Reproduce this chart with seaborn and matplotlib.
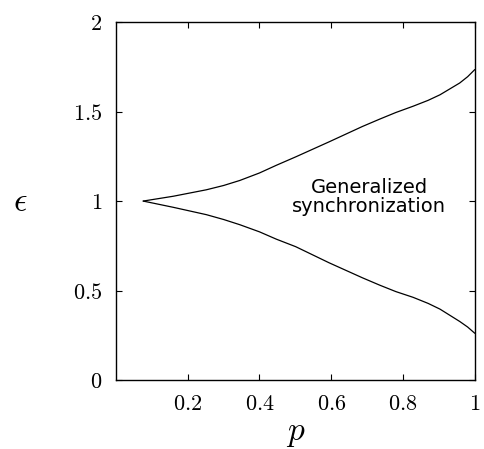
import matplotlib
matplotlib.use('Agg')
import matplotlib.pyplot as plt
import seaborn as sns

# 数据：边界曲线
p_vals = [0.076, 0.16, 0.252, 0.30, 0.345, 0.40, 0.447, 0.501, 0.594, 0.687, 0.735, 0.78, 0.828, 0.87, 0.903, 0.958, 0.98, 1.0]
eps_upper = [1.0, 1.027, 1.063, 1.087, 1.115, 1.157, 1.200, 1.247, 1.331, 1.417, 1.458, 1.495, 1.530, 1.563, 1.594, 1.660, 1.695, 1.735]
eps_lower = [1.0, 0.965, 0.924, 0.897, 0.868, 0.828, 0.787, 0.745, 0.655, 0.571, 0.530, 0.494, 0.462, 0.428, 0.396, 0.327, 0.296, 0.261]

x_ticks = [0.2, 0.4, 0.6, 0.8, 1.0]
x_labels = ['$0.2$', '$0.4$', '$0.6$', '$0.8$', '$1$']
y_ticks = [0, 0.5, 1, 1.5, 2]
y_labels = ['$0$', '$0.5$', '$1$', '$1.5$', '$2$']
region_text = "Generalized\nsynchronization"

sns.set_style('ticks')
plt.rcParams['mathtext.fontset'] = 'cm'
plt.rcParams['font.family'] = ['DejaVu Sans']
plt.rcParams['text.color'] = 'black'
plt.rcParams['xtick.color'] = 'black'
plt.rcParams['ytick.color'] = 'black'

fig = plt.figure(figsize=(4.85, 4.49), dpi=100)
ax = fig.add_axes([0.239, 0.1537, 0.740, 0.797])

sns.lineplot(x=p_vals, y=eps_upper, ax=ax, color='black', linewidth=0.9, sort=False)
sns.lineplot(x=p_vals, y=eps_lower, ax=ax, color='black', linewidth=0.9, sort=False)

ax.set_xlim(0, 1)
ax.set_ylim(0, 2)
ax.set_xticks(x_ticks)
ax.set_xticklabels(x_labels, fontsize=16)
ax.set_yticks(y_ticks)
ax.set_yticklabels(y_labels, fontsize=16)
ax.tick_params(direction='in', top=True, right=True, length=4, width=0.8, pad=10)

for s in ax.spines.values():
    s.set_linewidth(1.0)
    s.set_color('black')

ax.set_xlabel('$p$', fontsize=24, color='black', va='center')
ax.xaxis.set_label_coords(0.5, -0.148)
ax.set_ylabel(r'$\epsilon$', fontsize=24, rotation=0, color='black', va='center', ha='center')
ax.yaxis.set_label_coords(-0.267, 0.5)

ax.text(0.705, 1.02, region_text, ha='center', va='center', fontsize=14,
        linespacing=1.0, color='black')

fig.savefig('out.png', dpi=100)
